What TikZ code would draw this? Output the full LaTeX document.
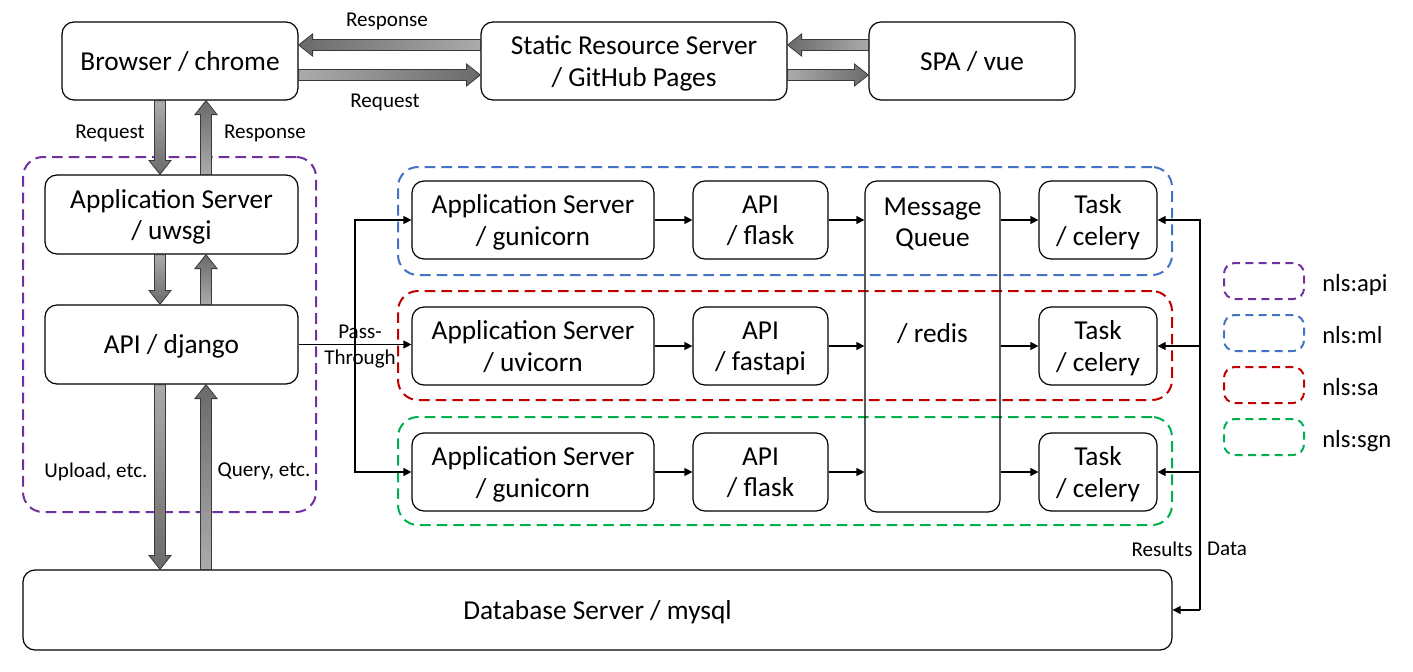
\documentclass[tikz,border=0pt]{standalone}
\usepackage{fontspec}
\setmainfont{Carlito}
\usetikzlibrary{calc,arrows.meta}
\definecolor{cpurple}{HTML}{7030A0}
\definecolor{cblue}{HTML}{4472C4}
\definecolor{cred}{HTML}{C00000}
\definecolor{cgreen}{HTML}{00B050}
\definecolor{baLight}{HTML}{ABABAB}
\definecolor{baDark}{HTML}{6A6A6A}
\definecolor{baEdge}{HTML}{3A3A3A}
\newcommand\mainsize{\fontsize{20.5}{23.5}\selectfont}
\newcommand\smallsize{\fontsize{15.8}{19.5}\selectfont}
\newcommand\legsize{\fontsize{18.5}{22}\selectfont}
\newcommand\blockarrow[3][]{%
  \path (#2) coordinate (ba-s) (#3) coordinate (ba-e);
  \path ($(ba-e)!10.5pt!(ba-s)$) coordinate (ba-h);
  \draw[draw=baEdge, line width=0.6pt, #1]
    ($(ba-s)!4.1pt!90:(ba-e)$) -- ($(ba-h)!4.1pt!90:(ba-e)$) -- ($(ba-h)!8.3pt!90:(ba-e)$) -- (ba-e)
    -- ($(ba-h)!8.3pt!-90:(ba-e)$) -- ($(ba-h)!4.1pt!-90:(ba-e)$) -- ($(ba-s)!4.1pt!-90:(ba-e)$) -- cycle;
}
\tikzset{
  sz/.style 2 args={minimum width=#1*0.75pt, minimum height=#2*0.75pt},
  box/.style={draw, rounded corners=9pt, line width=0.9pt, align=center, font=\mainsize, inner sep=0pt, text depth=0pt},
  grp/.style={draw=#1, dash pattern=on 8pt off 4.5pt, line width=1.5pt, rounded corners=15pt, inner sep=0pt},
  lgd/.style={draw=#1, dash pattern=on 6pt off 4pt, line width=1.5pt, rounded corners=8pt, inner sep=0pt, minimum width=60pt, minimum height=27pt},
  lgdtxt/.style={font=\legsize, inner sep=0pt, anchor=west, text depth=0pt},
  lbl/.style={font=\smallsize, inner sep=0pt, align=center, text depth=0pt},
  mtxt/.style={font=\mainsize, inner sep=0pt, align=center, text depth=0pt},
  conn/.style={line width=0.9pt, -{Triangle[length=6pt,width=6pt]}},
  baR/.style={left color=baLight, right color=baDark},
  baL/.style={left color=baDark, right color=baLight},
  baD/.style={top color=baLight, bottom color=baDark},
  baU/.style={top color=baDark, bottom color=baLight},
}
\begin{document}
\begin{tikzpicture}[x=0.75pt, y=-0.75pt]
\useasboundingbox (0,0) rectangle (1413,671);

% groups
\node[grp=cpurple, sz={293}{355}] (gapi) at (169.5,334.5) {};
\node[grp=cblue, sz={774}{108}] (gml) at (785,221) {};
\node[grp=cred, sz={774}{109}] (gsa) at (785,345.5) {};
\node[grp=cgreen, sz={774}{108}] (gsgn) at (785,471) {};

% top row
\node[box, sz={236}{78}] (brs) at (180,61) {Browser / chrome};
\node[box, sz={306}{78}] (sta) at (634,61) {Static Resource Server\\/ GitHub Pages};
\node[box, sz={206}{78}] (spa) at (972,61) {SPA / vue};

% api column
\node[box, sz={253}{79}] (uws) at (171.5,214.5) {Application Server\\/ uwsgi};
\node[box, sz={253}{79}] (dj) at (171.5,344.5) {API / django};
\node[box, sz={1149}{80}] (db) at (597.5,610) {Database Server / mysql};

% rows
\node[box, sz={242}{78}] (ap1) at (533,220) {Application Server\\/ gunicorn};
\node[box, sz={135}{78}] (api1) at (760.5,220) {API\\/ flask};
\node[box, sz={118}{78}] (tk1) at (1098,220) {Task\\/ celery};
\node[box, sz={242}{78}] (ap2) at (533,346) {Application Server\\/ uvicorn};
\node[box, sz={135}{78}] (api2) at (760.5,346) {API\\/ fastapi};
\node[box, sz={118}{78}] (tk2) at (1098,346) {Task\\/ celery};
\node[box, sz={242}{78}] (ap3) at (533,472) {Application Server\\/ gunicorn};
\node[box, sz={135}{78}] (api3) at (760.5,472) {API\\/ flask};
\node[box, sz={118}{78}] (tk3) at (1098,472) {Task\\/ celery};
\node[box, sz={135}{331}] (mq) at (932.5,346.5) {};
\node[mtxt] (mqt) at (932.5,222.5) {Message\\Queue};
\node[mtxt] (mqr) at (932.5,333) {/ redis};

% legend
\node[lgd=cpurple] (lg1) at (1264,281) {};
\node[lgd=cblue] (lg2) at (1264,333) {};
\node[lgd=cred] (lg3) at (1264,385) {};
\node[lgd=cgreen] (lg4) at (1264,437) {};
\node[lgdtxt] (lt1) at (1322,283) {nls:api};
\node[lgdtxt] (lt2) at (1322,335) {nls:ml};
\node[lgdtxt] (lt3) at (1322,387) {nls:sa};
\node[lgdtxt] (lt4) at (1322,439) {nls:sgn};

% thin connectors
\foreach \r in {1,2,3}{
  \draw[conn] (ap\r.east) -- (api\r.west);
  \draw[conn] (api\r.east) -- (api\r.east -| mq.west);
  \draw[conn] (mq.east |- tk\r.west) -- (tk\r.west);
}
\coordinate (pj) at (355,0);
\draw[conn] (dj.east) -- (dj.east -| ap2.west);
\draw[conn] (pj |- dj.east) |- (ap1.west);
\draw[conn] (pj |- dj.east) |- (ap3.west);
\node[lbl] (pt) at (360,345) {Pass-\\Through};

\coordinate (rb) at (1200,0);
\draw[conn] (rb |- db.east) |- (tk1.east);
\draw[conn] (rb |- tk2.east) -- (tk2.east);
\draw[conn] (rb |- tk3.east) -- (tk3.east);
\draw[conn] (rb |- db.east) -- (db.east);
\node[lbl] (lres) at (1162,549) {Results};
\node[lbl] (ldat) at (1227,549) {Data};

% block arrows
\coordinate (ax1) at (160,0);
\coordinate (ax2) at (206,0);
\coordinate (ay1) at (0,45);
\coordinate (ay2) at (0,75);
\blockarrow[baL]{sta.west |- ay1}{brs.east |- ay1}
\blockarrow[baR]{brs.east |- ay2}{sta.west |- ay2}
\blockarrow[baL]{spa.west |- ay1}{sta.east |- ay1}
\blockarrow[baR]{sta.east |- ay2}{spa.west |- ay2}
\blockarrow[baD]{ax1 |- brs.south}{ax1 |- uws.north}
\blockarrow[baU]{ax2 |- uws.north}{ax2 |- brs.south}
\blockarrow[baD]{ax1 |- uws.south}{ax1 |- dj.north}
\blockarrow[baU]{ax2 |- dj.north}{ax2 |- uws.south}
\blockarrow[baD]{ax1 |- dj.south}{ax1 |- db.north}
\blockarrow[baU]{ax2 |- db.north}{ax2 |- dj.south}

% labels
\node[lbl] (lr1) at (387,20) {Response};
\node[lbl] (lq1) at (385,101) {Request};
\node[lbl] (lq2) at (110,132) {Request};
\node[lbl] (lr2) at (265,132) {Response};
\node[lbl] (lup) at (96,470) {Upload, etc.};
\node[lbl] (lqu) at (264,470) {Query, etc.};
\end{tikzpicture}
\end{document}
